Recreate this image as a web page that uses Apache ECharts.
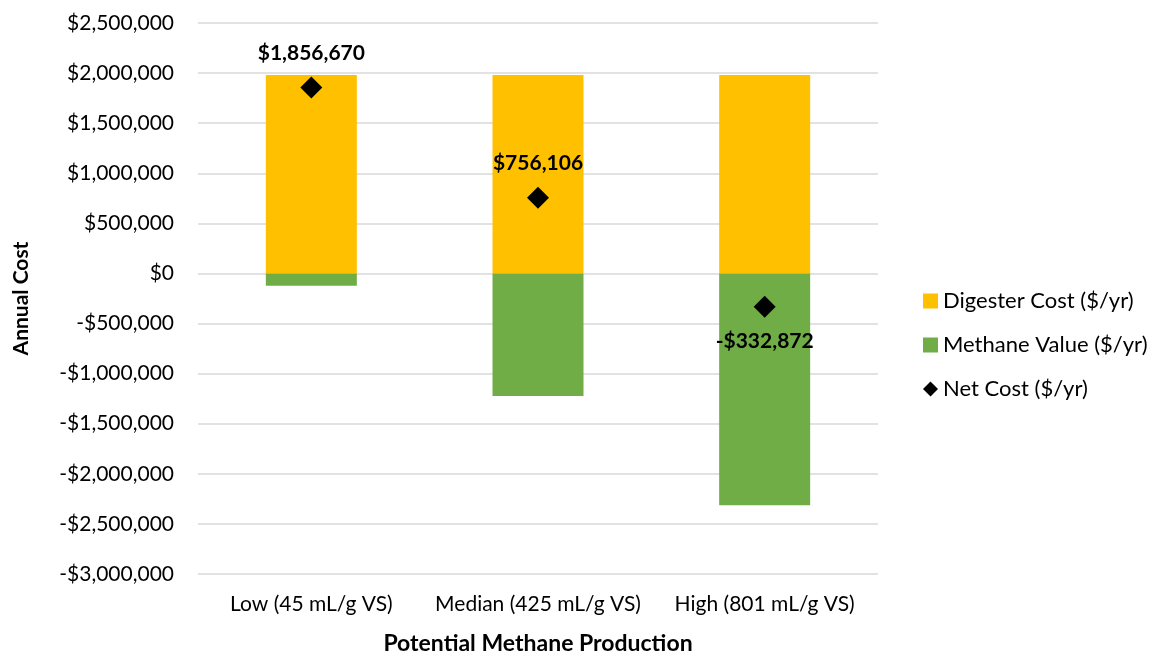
<!DOCTYPE html>
<html>
<head>
<meta charset="utf-8">
<script src="https://cdn.jsdelivr.net/npm/echarts@6/dist/echarts.min.js"></script>
<style>
  html, body { margin: 0; padding: 0; background: #fff; }
  #chart { width: 1151px; height: 653px; }
</style>
</head>
<body>
<div id="chart"></div>
<script>
// data
const categories = ['Low (45 mL/g VS)', 'Median (425 mL/g VS)', 'High (801 mL/g VS)'];
const digesterCost = [1980000, 1980000, 1980000];
const methaneValue = [-123330, -1223894, -2312872];
const netCost = [1856670, 756106, -332872];
const labelPos = ['top', 'top', 'bottom'];

const font = 'Lato, "Open Sans", sans-serif';

const money = v => (v < 0 ? '-$' : '$') + Math.abs(v).toLocaleString('en-US');

let chart = echarts.init(document.getElementById('chart'));
const option = {
  animation: false,
  textStyle: { fontFamily: font },
  grid: { left: 198, right: 273, top: 23, bottom: 79, containLabel: false, outerBoundsMode: 'none' },
  legend: {
    orient: 'vertical',
    left: 918,
    top: 285,
    itemGap: 22,
    itemWidth: 15,
    itemHeight: 15,
    textStyle: { fontSize: 22, color: '#000', fontFamily: font },
    data: [
      { name: 'Digester Cost ($/yr)', icon: 'rect' },
      { name: 'Methane Value ($/yr)', icon: 'rect' },
      { name: 'Net Cost ($/yr)', icon: 'diamond' }
    ]
  },
  xAxis: {
    type: 'category',
    data: categories,
    axisLine: { show: false },
    axisTick: { show: false },
    axisLabel: { fontSize: 21, color: '#000', margin: 20, interval: 0 },
    name: 'Potential Methane Production',
    nameLocation: 'middle',
    nameGap: 58,
    nameTextStyle: { fontSize: 23, fontWeight: 'bold', color: '#000' }
  },
  yAxis: {
    type: 'value',
    min: -3000000,
    max: 2500000,
    interval: 500000,
    axisLine: { show: false },
    axisTick: { show: false },
    splitLine: { lineStyle: { color: '#d9d9d9', width: 1.5 } },
    axisLabel: { fontSize: 21, color: '#000', margin: 24, formatter: money },
    name: 'Annual Cost',
    nameLocation: 'middle',
    nameGap: 166,
    nameTextStyle: { fontSize: 21, fontWeight: 'bold', color: '#000' }
  },
  series: [
    {
      name: 'Digester Cost ($/yr)',
      type: 'bar',
      stack: 'cost',
      barWidth: 91,
      itemStyle: { color: '#ffc000' },
      data: digesterCost
    },
    {
      name: 'Methane Value ($/yr)',
      type: 'bar',
      stack: 'cost',
      barWidth: 91,
      itemStyle: { color: '#70ad47' },
      data: methaneValue
    },
    {
      name: 'Net Cost ($/yr)',
      type: 'scatter',
      symbol: 'diamond',
      symbolSize: [22, 22],
      itemStyle: { color: '#000', opacity: 1 },
      z: 5,
      data: netCost.map((v, i) => ({
        value: v,
        label: {
          show: true,
          position: labelPos[i],
          distance: 13,
          formatter: money(v),
          fontSize: 21,
          fontWeight: 'bold',
          color: '#000',
          fontFamily: font
        }
      }))
    }
  ]
};
chart.setOption(option);
</script>
</body>
</html>
